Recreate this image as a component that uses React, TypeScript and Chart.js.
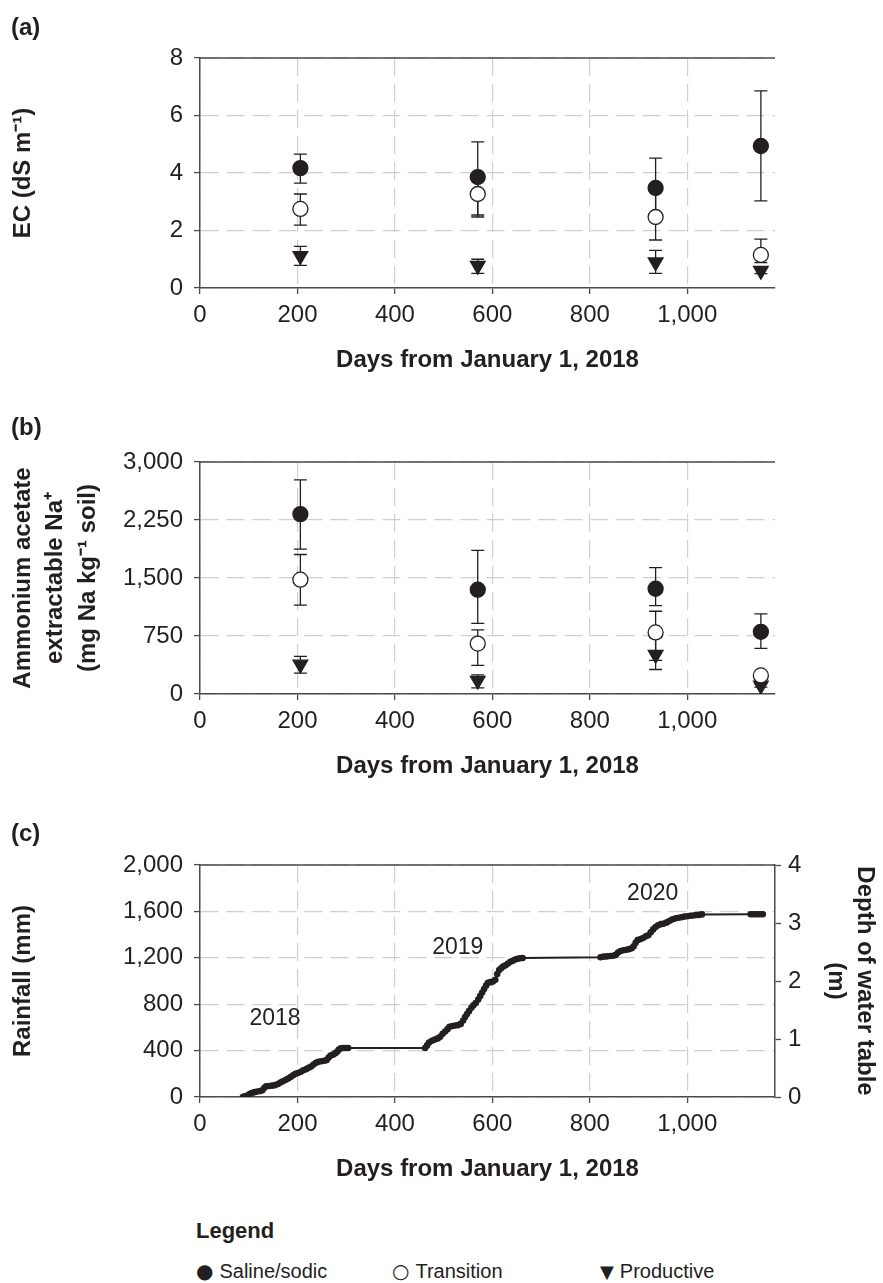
import React, { useEffect, useRef } from "react";
import { Chart, registerables } from "chart.js";

Chart.register(...registerables);

// ---------- data ----------
const sampleDays = [206, 570, 935, 1151];
const dayTicks = [0, 200, 400, 600, 800, 1000];

const ecSaline = [4.17, 3.86, 3.48, 4.94];
const ecSalineHi = [4.66, 5.08, 4.52, 6.86];
const ecSalineLo = [3.65, 2.54, 2.47, 3.03];
const ecTransition = [2.75, 3.27, 2.47, 1.15];
const ecTransitionHi = [3.27, 3.86, 3.48, 1.7];
const ecTransitionLo = [2.19, 2.47, 1.67, 0.88];
const ecProductive = [1.12, 0.78, 0.9, 0.6];
const ecProductiveHi = [1.45, 1.0, 1.31, 0.7];
const ecProductiveLo = [0.79, 0.51, 0.51, 0.5];

const naSaline = [2326, 1348, 1361, 804];
const naSalineHi = [2770, 1857, 1635, 1035];
const naSalineLo = [1874, 913, 1143, 591];
const naTransition = [1478, 652, 796, 240];
const naTransitionHi = [1804, 830, 1070, 260];
const naTransitionLo = [1148, 370, 435, 220];
const naProductive = [383, 174, 509, 110];
const naProductiveHi = [487, 248, 730, 130];
const naProductiveLo = [270, 78, 317, 90];

const rainDays = [
  88, 92, 97, 102, 106, 112, 118, 124, 128, 132, 136, 142, 148, 154, 160, 165, 170, 176, 181, 186,
  191, 196, 201, 207, 212, 218, 223, 228, 233, 238, 243, 249, 255, 260, 264, 268, 273, 278, 282, 285,
  289, 294, 299, 304,
  462, 466, 470, 476, 482, 488, 493, 498, 503, 508, 512, 518, 524, 530, 535, 540, 544, 548, 552, 557,
  561, 566, 571, 575, 579, 583, 587, 591, 596, 601, 606, 610, 614, 618, 622, 627, 632, 637, 642, 647,
  652, 657, 662,
  822, 828, 835, 842, 848, 853, 858, 863, 869, 875, 881, 886, 890, 894, 898, 903, 909, 915, 920, 925,
  930, 935, 940, 946, 952, 958, 964, 970, 976, 982, 988, 994, 1000, 1006, 1012, 1018, 1024, 1030,
  1130, 1135, 1140, 1145, 1150, 1155,
];
const rainMm = [
  0, 5, 12, 25, 34, 42, 48, 52, 58, 80, 92, 95, 98, 102, 112, 125, 135, 148, 160, 172,
  188, 200, 207, 218, 230, 240, 252, 262, 280, 295, 303, 308, 312, 318, 340, 358, 365, 378, 392, 410,
  420, 422, 422, 422,
  422, 445, 470, 485, 495, 505, 520, 545, 565, 585, 605, 612, 616, 620, 630, 660, 690, 715, 740, 770,
  790, 810, 840, 870, 900, 930, 960, 985, 990, 995, 1010, 1060, 1095, 1110, 1125, 1135, 1150, 1165, 1175, 1185,
  1192, 1196, 1198,
  1205, 1210, 1212, 1215, 1218, 1225, 1245, 1258, 1265, 1270, 1275, 1282, 1300, 1330, 1352, 1360, 1370, 1385, 1395, 1420,
  1445, 1465, 1480, 1490, 1495, 1505, 1520, 1532, 1540, 1545, 1550, 1555, 1558, 1562, 1565, 1568, 1570, 1574,
  1575, 1575, 1576, 1576, 1576, 1576,
];

const yearLabels = ["2018", "2019", "2020"];
const yearLabelDays = [154, 529, 929];
const yearLabelMm = [678, 1287, 1751];

const seriesNames = ["Saline/sodic", "Transition", "Productive"];

// ---------- style ----------
const FONT = "'Liberation Sans', Arial, sans-serif";
const INK = "#231f20";
const AXIS = "#4a4a4a";
const GRID = "#cfcfcf";
const DASH = [18, 8];

const errorBarPlugin = {
  id: "errorBars",
  beforeDatasetsDraw(chart: any) {
    const ctx = chart.ctx;
    const ys = chart.scales.y;
    ctx.save();
    ctx.strokeStyle = INK;
    ctx.lineWidth = 1.3;
    chart.data.datasets.forEach((ds: any, i: number) => {
      if (!ds.errHi) return;
      const meta = chart.getDatasetMeta(i);
      meta.data.forEach((pt: any, j: number) => {
        const x = pt.x;
        const y1 = ys.getPixelForValue(ds.errHi[j]);
        const y2 = ys.getPixelForValue(ds.errLo[j]);
        ctx.beginPath();
        ctx.moveTo(x, y1);
        ctx.lineTo(x, y2);
        ctx.moveTo(x - 6.5, y1);
        ctx.lineTo(x + 6.5, y1);
        ctx.moveTo(x - 6.5, y2);
        ctx.lineTo(x + 6.5, y2);
        ctx.stroke();
      });
    });
    ctx.restore();
  },
};

const frameTopPlugin = {
  id: "frameTop",
  beforeDatasetsDraw(chart: any) {
    const { ctx, chartArea: a } = chart;
    ctx.save();
    ctx.strokeStyle = AXIS;
    ctx.lineWidth = 1.5;
    ctx.beginPath();
    ctx.moveTo(a.left, a.top);
    ctx.lineTo(a.right, a.top);
    ctx.stroke();
    ctx.restore();
  },
};

const yearLabelPlugin = {
  id: "yearLabels",
  afterDatasetsDraw(chart: any) {
    const { ctx } = chart;
    const xs = chart.scales.x;
    const ys = chart.scales.y;
    ctx.save();
    ctx.fillStyle = INK;
    ctx.font = `23px ${FONT}`;
    ctx.textAlign = "center";
    ctx.textBaseline = "middle";
    yearLabels.forEach((t, i) => {
      ctx.fillText(t, xs.getPixelForValue(yearLabelDays[i]), ys.getPixelForValue(yearLabelMm[i]));
    });
    ctx.restore();
  },
};

function xScale(height: number, titlePad: number) {
  return {
    type: "linear",
    min: 0,
    max: 1180,
    afterBuildTicks: (s: any) => {
      s.ticks = dayTicks.map((v) => ({ value: v }));
    },
    ticks: {
      color: INK,
      font: { family: FONT, size: 24 },
      padding: 7,
      maxRotation: 0,
      autoSkip: false,
    },
    grid: { color: GRID, lineWidth: 1.2, tickColor: AXIS, tickLength: 6, tickWidth: 1.3 },
    border: { color: AXIS, width: 1.5, dash: DASH },
    title: {
      display: true,
      text: "Days from January 1, 2018",
      color: INK,
      font: { family: FONT, size: 24, weight: "bold", lineHeight: 1.2 },
      padding: { top: 0, bottom: titlePad },
    },
    afterFit: (s: any) => {
      s.height = height;
    },
  };
}

function yScale(max: number, step: number, title: any, lineHeight: number, titlePad: number) {
  return {
    type: "linear",
    min: 0,
    max,
    ticks: { stepSize: step, color: INK, font: { family: FONT, size: 24 }, padding: 11 },
    grid: { color: GRID, lineWidth: 1.2, tickColor: AXIS, tickLength: 6, tickWidth: 1.3 },
    border: { color: AXIS, width: 1.5, dash: DASH },
    title: {
      display: true,
      text: title,
      color: INK,
      font: { family: FONT, size: 24, weight: "bold", lineHeight },
      padding: { top: titlePad, bottom: 0 },
    },
    afterFit: (s: any) => {
      s.width = 200;
    },
  };
}

function pointDatasets(vals: number[][], his: number[][], los: number[][]) {
  const styles = [
    { pointStyle: "circle", bg: INK, r: 7.5, rot: 0 },
    { pointStyle: "circle", bg: "#ffffff", r: 7.5, rot: 0 },
    { pointStyle: "triangle", bg: INK, r: 8.5, rot: 180 },
  ];
  return vals.map((v, k) => ({
    label: seriesNames[k],
    data: sampleDays.map((d, j) => ({ x: d, y: v[j] })),
    errHi: his[k],
    errLo: los[k],
    showLine: false,
    pointStyle: styles[k].pointStyle,
    pointRotation: styles[k].rot,
    pointRadius: styles[k].r,
    pointBackgroundColor: styles[k].bg,
    pointBorderColor: INK,
    pointBorderWidth: 1.3,
  }));
}

const common = {
  responsive: false,
  animation: false,
  devicePixelRatio: 1,
  plugins: { legend: { display: false }, tooltip: { enabled: false } },
  events: [],
};

function buildA() {
  return {
    type: "scatter",
    data: {
      datasets: pointDatasets(
        [ecSaline, ecTransition, ecProductive],
        [ecSalineHi, ecTransitionHi, ecProductiveHi],
        [ecSalineLo, ecTransitionLo, ecProductiveLo]
      ),
    },
    options: {
      ...common,
      layout: { padding: { top: 58, right: 108, left: 0, bottom: 0 } },
      scales: {
        x: xScale(92, 5),
        y: yScale(8, 2, "EC (dS m\u207B\u00B9)", 1.2, 9),
      },
    },
    plugins: [frameTopPlugin, errorBarPlugin],
  };
}

function buildB() {
  return {
    type: "scatter",
    data: {
      datasets: pointDatasets(
        [naSaline, naTransition, naProductive],
        [naSalineHi, naTransitionHi, naProductiveHi],
        [naSalineLo, naTransitionLo, naProductiveLo]
      ),
    },
    options: {
      ...common,
      layout: { padding: { top: 82, right: 108, left: 0, bottom: 0 } },
      scales: {
        x: xScale(91, 4),
        y: yScale(
          3000,
          750,
          ["Ammonium acetate", "extractable Na\u207A", "(mg Na kg\u207B\u00B9 soil)"],
          1.36,
          6.7
        ),
      },
    },
    plugins: [frameTopPlugin, errorBarPlugin],
  };
}

function buildC() {
  return {
    type: "scatter",
    data: {
      datasets: [
        {
          label: "Rainfall",
          data: rainDays.map((d, i) => ({ x: d, y: rainMm[i] })),
          showLine: true,
          borderColor: INK,
          borderWidth: 2,
          pointRadius: 3.3,
          pointBackgroundColor: INK,
          pointBorderWidth: 0,
          yAxisID: "y",
        },
      ],
    },
    options: {
      ...common,
      layout: { padding: { top: 80, right: 0, left: 0, bottom: 0 } },
      scales: {
        x: xScale(98, 11),
        y: yScale(2000, 400, "Rainfall (mm)", 1.2, 9),
        y2: {
          type: "linear",
          position: "right",
          min: 0,
          max: 4,
          ticks: { stepSize: 1, color: INK, font: { family: FONT, size: 24 }, padding: 7 },
          grid: { drawOnChartArea: false, color: GRID, tickColor: AXIS, tickLength: 6, tickWidth: 1.3 },
          border: { color: AXIS, width: 1.5 },
          title: {
            display: true,
            text: ["Depth of water table", "(m)"],
            color: INK,
            font: { family: FONT, size: 24, weight: "bold", lineHeight: 1.21 },
            padding: { top: 3.5, bottom: 0 },
          },
          afterFit: (s: any) => {
            s.width = 108;
          },
        },
      },
    },
    plugins: [frameTopPlugin, yearLabelPlugin],
  };
}

function ChartCanvas({ top, height, build }: { top: number; height: number; build: () => any }) {
  const ref = useRef<HTMLCanvasElement | null>(null);
  useEffect(() => {
    const chart = new Chart(ref.current as HTMLCanvasElement, build() as any);
    return () => chart.destroy();
  }, []);
  return (
    <canvas
      ref={ref}
      width={883}
      height={height}
      style={{ position: "absolute", left: 0, top, width: 883, height }}
    />
  );
}

const panelLabel = (text: string, top: number) => (
  <div
    style={{
      position: "absolute",
      left: 11,
      top,
      font: `bold 24px ${FONT}`,
      lineHeight: "24px",
      color: INK,
    }}
  >
    {text}
  </div>
);

export default function App() {
  const legendItem = (sym: string, text: string, left: number, symSize: number) => (
    <div
      style={{
        position: "absolute",
        left,
        top: 1258,
        display: "flex",
        alignItems: "center",
        height: 26,
        color: INK,
        font: `20px ${FONT}`,
        whiteSpace: "nowrap",
      }}
    >
      <span style={{ fontSize: symSize, fontFamily: "'DejaVu Sans', sans-serif", marginRight: 6 }}>{sym}</span>
      <span>{text}</span>
    </div>
  );
  return (
    <div
      style={{
        position: "absolute",
        left: 0,
        top: 0,
        width: 883,
        height: 1283,
        background: "#ffffff",
        overflow: "hidden",
      }}
    >
      <ChartCanvas top={0} height={380} build={buildA} />
      <ChartCanvas top={380} height={405} build={buildB} />
      <ChartCanvas top={785} height={410} build={buildC} />
      {panelLabel("(a)", 15)}
      {panelLabel("(b)", 415)}
      {panelLabel("(c)", 821)}
      <div
        style={{
          position: "absolute",
          left: 196,
          top: 1219,
          font: `bold 22px ${FONT}`,
          lineHeight: "24px",
          color: INK,
        }}
      >
        Legend
      </div>
      {legendItem("\u25CF", seriesNames[0], 196, 20)}
      {legendItem("\u25CB", seriesNames[1], 392, 20)}
      {legendItem("\u25BC", seriesNames[2], 600, 18)}
    </div>
  );
}
